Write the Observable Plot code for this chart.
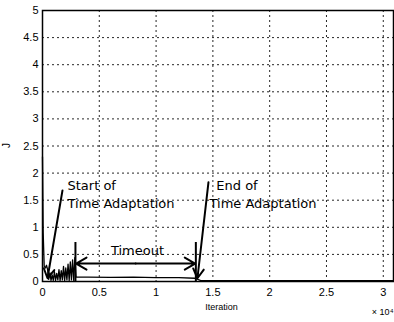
<!DOCTYPE html>
<html><head><meta charset="utf-8">
<script src="https://cdn.jsdelivr.net/npm/d3@7"></script>
<script src="https://cdn.jsdelivr.net/npm/@observablehq/plot@0.6"></script>
<style>html,body{margin:0;padding:0;background:#fff} #chart svg{display:block}</style>
</head><body><div id="chart"></div>
<script>
// Series: cost J versus iteration
const iteration = [0, 60, 150, 250, 350, 450, 550, 650, 750, 850, 950, 1050, 1150, 1250, 1350, 1450, 1550, 1650, 1750, 1850, 1950, 2050, 2150, 2250, 2350, 2450, 2550, 2650, 2750, 2850, 2950, 4000, 6000, 8000, 10000, 12000, 13400, 13900, 16000, 20000, 25000, 30900];
const cost      = [2.3, 0.9, 0.28, 0.25, 0.3, 0.22, 0.04, 0.16, 0.02, 0.12, 0.02, 0.18, 0.02, 0.15, 0.03, 0.22, 0.02, 0.2, 0.03, 0.28, 0.02, 0.25, 0.03, 0.32, 0.02, 0.36, 0.03, 0.4, 0.02, 0.44, 0.08, 0.08, 0.075, 0.08, 0.07, 0.07, 0.06, 0.02, 0.015, 0.015, 0.015, 0.015];

// Axis ticks
const xTicks = [0, 5000, 10000, 15000, 20000, 25000, 30000];
const xTickLabels = ["0", "0.5", "1", "1.5", "2", "2.5", "3"];
const yTicks = [0, 0.5, 1, 1.5, 2, 2.5, 3, 3.5, 4, 4.5, 5];
const yTickLabels = ["0", "0.5", "1", "1.5", "2", "2.5", "3", "3.5", "4", "4.5", "5"];

// Annotation texts (left-anchored)
const noteText = ["Start of", "Time Adaptation", "End of", "Time Adaptation"];
const noteX = [2200, 2200, 15300, 14700];
const noteY = [1.77, 1.44, 1.77, 1.44];
// Centered span label
const spanLabel = "Timeout";
const spanLabelX = 8360;
const spanLabelY = 0.57;

// Pointer arrows (from label to event)
const pointerX1 = [1760, 14610];
const pointerY1 = [1.68, 1.83];
const pointerX2 = [440, 13640];
const pointerY2 = [0.06, 0.06];

// Timeout span
const spanStart = 2900;
const spanEnd = 13500;
const spanLevel = 0.33;
const spanBarTop = 0.72;

const series = iteration.map((x, i) => ({x, y: cost[i]}));
const notes = noteText.map((t, i) => ({t, x: noteX[i], y: noteY[i]}));
const pointers = pointerX1.map((x1, i) => ({x1, y1: pointerY1[i], x2: pointerX2[i], y2: pointerY2[i]}));
const spanMid = (spanStart + spanEnd) / 2;
const spanArrows = [
  {x1: spanMid, x2: spanStart + 60, y: spanLevel},
  {x1: spanMid, x2: spanEnd - 60, y: spanLevel}
];
const spanBars = [spanStart, spanEnd];

const noteFont = "DejaVu Sans, sans-serif";

const chart = Plot.plot({
  width: 394,
  height: 322,
  marginLeft: 42,
  marginRight: 1,
  marginTop: 10,
  marginBottom: 41,
  style: {fontFamily: "Liberation Sans, Arial, sans-serif", background: "#fff", color: "#000"},
  x: {domain: [0, 30900]},
  y: {domain: [0, 5]},
  marks: [
    Plot.gridX(xTicks.filter(d => d > 0), {stroke: "#000", strokeOpacity: 0.85, strokeDasharray: "2,3"}),
    Plot.gridY(yTicks.filter(d => d > 0 && d < 5), {stroke: "#000", strokeOpacity: 0.85, strokeDasharray: "2,3"}),
    Plot.axisX(xTicks, {tickSize: 0, tickPadding: 7, fontSize: 11, label: null, tickFormat: d => xTickLabels[xTicks.indexOf(d)]}),
    Plot.axisY(yTicks, {tickSize: 0, tickPadding: 4, fontSize: 11, label: null, tickFormat: d => yTickLabels[yTicks.indexOf(d)]}),
    Plot.line(series, {x: "x", y: "y", stroke: "#000", strokeWidth: 1.3}),
    Plot.ruleX(spanBars, {y1: 0, y2: spanBarTop, stroke: "#000", strokeWidth: 2}),
    Plot.arrow(spanArrows, {x1: "x1", x2: "x2", y1: "y", y2: "y", stroke: "#000", strokeWidth: 2, headLength: 9}),
    Plot.arrow(pointers, {x1: "x1", y1: "y1", x2: "x2", y2: "y2", stroke: "#000", strokeWidth: 2, headLength: 8}),
    Plot.text(notes, {x: "x", y: "y", text: "t", textAnchor: "start", fontSize: 13, fontFamily: noteFont, fill: "#000"}),
    Plot.text([spanLabel], {x: spanLabelX, y: spanLabelY, text: d => d, textAnchor: "middle", fontSize: 13, fontFamily: noteFont, fill: "#000"}),
    Plot.text(["Iteration"], {x: 15760, y: -0.48, text: d => d, fontSize: 9, fill: "#000"}),
    Plot.text(["× 10⁴"], {x: 30900, y: -0.57, text: d => d, textAnchor: "end", fontSize: 9, fill: "#000"}),
    Plot.text(["J"], {x: -3170, y: 2.51, text: d => d, rotate: -90, fontSize: 10, fill: "#000"}),
    Plot.frame({stroke: "#000", strokeWidth: 1.5})
  ]
});
document.getElementById("chart").appendChild(chart);
</script>
</body></html>
